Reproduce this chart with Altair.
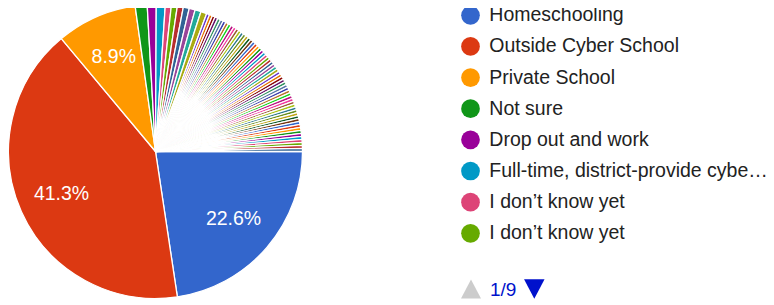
import math
import altair as alt
import pandas as pd

# ---- data ----
names = [
    "Homeschooling",
    "Outside Cyber School",
    "Private School",
    "Not sure",
    "Drop out and work",
    "Full-time, district-provide cyber school",
    "I don’t know yet",
    "I don’t know yet",
] + [f"Other response {i}" for i in range(9, 73)]

counts = [69, 126, 27, 4, 3, 3, 2, 2, 2, 2, 2, 2, 2] + [1] * 59

palette = [
    "#3366cc", "#dc3912", "#ff9900", "#109618", "#990099", "#0099c6",
    "#dd4477", "#66aa00", "#b82e2e", "#316395", "#994499", "#22aa99",
    "#aaaa11", "#6633cc", "#e67300", "#8b0707", "#651067", "#329262",
    "#5574a6", "#3b3eac", "#b77322", "#16d620", "#b91383", "#f4359e",
    "#9c5935", "#a9c413", "#2a778d", "#668d1c", "#bea413", "#0c5922",
    "#743411",
]

per_page = 8

# ---- build table ----
total = sum(counts)
df = pd.DataFrame({
    "idx": list(range(len(names))),
    "name": names,
    "count": counts,
    "color": [palette[i % len(palette)] for i in range(len(names))],
})
df["label"] = [f"{c / total * 100:.1f}%" if c / total >= 0.05 else "" for c in counts]

leg = df.head(per_page).copy()
leg["row"] = list(range(len(leg)))
pages = math.ceil(len(names) / per_page)
nav = pd.DataFrame({"page": [f"1/{pages}"]})

FONT = "Liberation Sans"
CX, CY, R = 147.5, 143.5, 147

theta = alt.Theta("count:Q", stack=True,
                  scale=alt.Scale(range=[math.pi / 2, math.pi / 2 + 2 * math.pi]))

base = alt.Chart(df).encode(theta=theta, order=alt.Order("idx:Q"))

arcs = base.mark_arc(radius=R, stroke="white", strokeWidth=1.3).encode(
    color=alt.Color("color:N", scale=None, legend=None),
    x=alt.value(CX), y=alt.value(CY),
)

labels = base.mark_text(radius=103, fontSize=19.5, font=FONT, color="white").encode(
    text="label:N", x=alt.value(CX), y=alt.value(CY),
)

legbase = alt.Chart(leg).encode(
    y=alt.Y("row:Q", scale=alt.Scale(domain=[0, 7], range=[7.3, 225.3]), axis=None)
)
dots = legbase.mark_circle(size=350, opacity=1).encode(
    x=alt.value(462.5), color=alt.Color("color:N", scale=None, legend=None)
)
legtext = legbase.mark_text(align="left", baseline="middle", fontSize=19.5, font=FONT,
                            color="#222222", limit=279, ellipsis="…").encode(
    x=alt.value(481.3), text="name:N"
)

up = alt.Chart(nav).mark_point(shape="M-1,0.95L0,-0.95L1,0.95Z", filled=True, size=400,
                               color="#cccccc", opacity=1, strokeWidth=0).encode(
    x=alt.value(463), y=alt.value(281)
)
down = alt.Chart(nav).mark_point(shape="M-1,-0.95L0,0.95L1,-0.95Z", filled=True, size=420,
                                 color="#0011cc", opacity=1, strokeWidth=0).encode(
    x=alt.value(526.3), y=alt.value(281)
)
pagetext = alt.Chart(nav).mark_text(align="left", baseline="middle", fontSize=19,
                                    font=FONT, color="#0011cc").encode(
    x=alt.value(482), y=alt.value(281.5), text="page:N"
)

chart = alt.layer(arcs, labels, dots, legtext, up, down, pagetext).properties(
    width=758, height=291, padding=0, autosize=alt.AutoSizeParams(type="none")
).configure_view(stroke=None)

chart.save("out.html", embed_options={"renderer": "svg", "actions": False})
